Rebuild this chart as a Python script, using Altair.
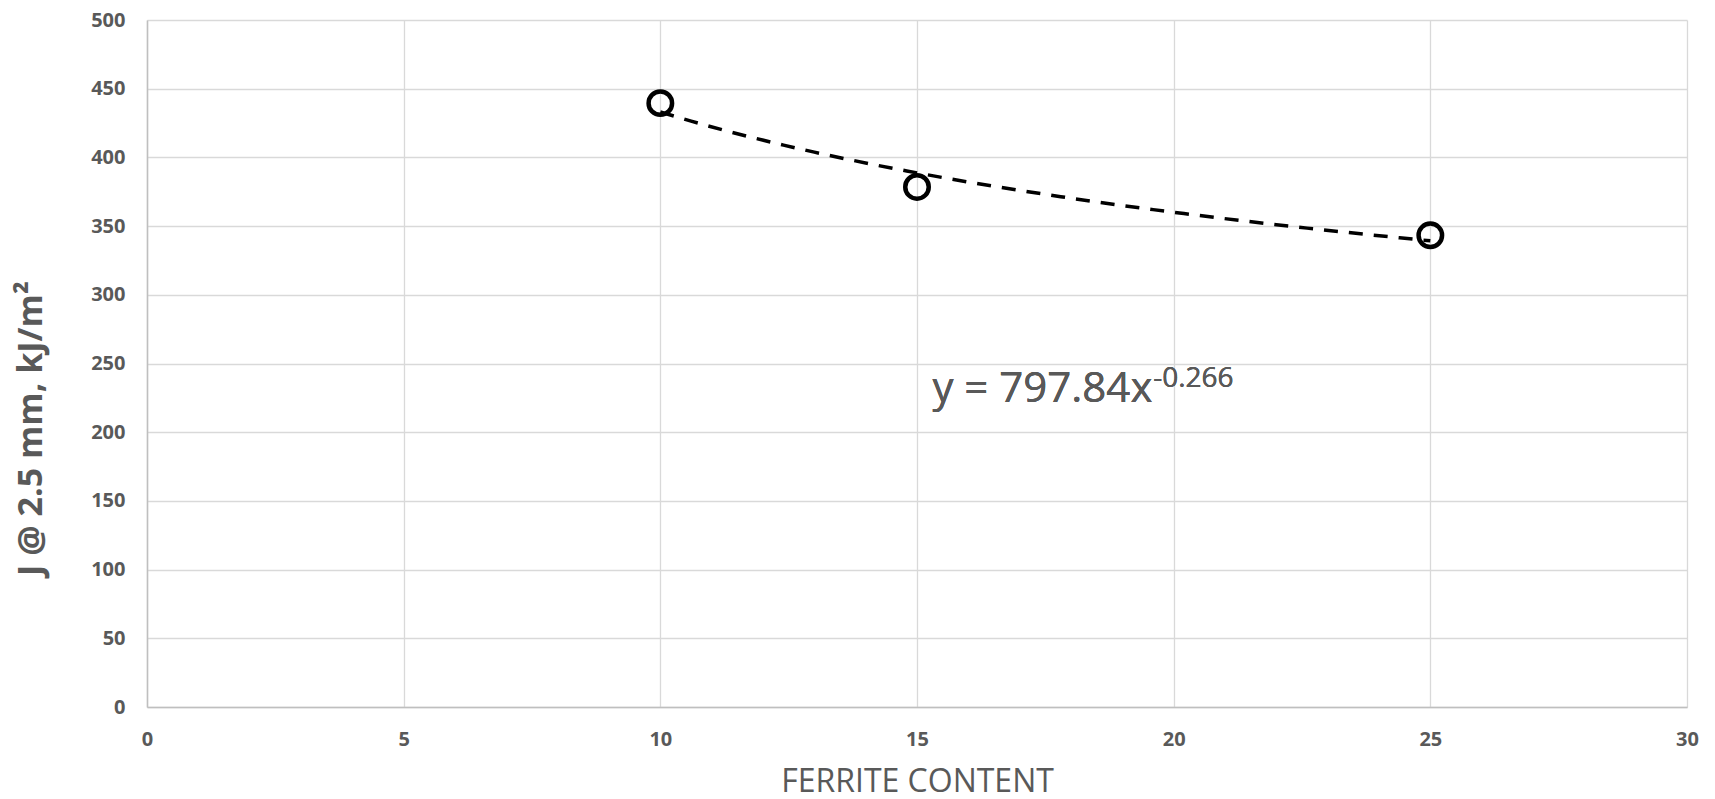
import altair as alt
import pandas as pd

# Data
ferrite = [10, 15, 25]
j_values = [439.5, 378.5, 343.3]

x_ticks = [0, 5, 10, 15, 20, 25, 30]
y_ticks = [0, 50, 100, 150, 200, 250, 300, 350, 400, 450, 500]

eq_main = "y = 797.84x"
eq_exp = "-0.266"

x_title = "FERRITE CONTENT"
y_title = "J @ 2.5 mm, kJ/m\u00b2"

df = pd.DataFrame({"x": ferrite, "y": j_values})

FONT = "Open Sans"
GRAY = "#595959"

x_enc = alt.X(
    "x:Q",
    scale=alt.Scale(domain=[0, 30], nice=False, zero=True),
    axis=alt.Axis(
        values=x_ticks,
        title=x_title,
        grid=True,
        gridColor="#d9d9d9",
        gridWidth=1.3,
        domainColor="#bfbfbf",
        domainWidth=1.5,
        ticks=False,
        labelFlush=False,
        labelFont=FONT,
        labelFontSize=20,
        labelFontWeight="bold",
        labelColor=GRAY,
        labelPadding=22,
        titleFont=FONT,
        titleFontSize=32,
        titleFontWeight="normal",
        titleColor=GRAY,
        titleBaseline="middle",
        titleY=74,
    ),
)
y_enc = alt.Y(
    "y:Q",
    scale=alt.Scale(domain=[0, 500], nice=False),
    axis=alt.Axis(
        values=y_ticks,
        title=y_title,
        grid=True,
        gridColor="#d9d9d9",
        gridWidth=1.3,
        domainColor="#bfbfbf",
        domainWidth=1.5,
        ticks=False,
        labelFlush=False,
        labelFont=FONT,
        labelFontSize=20,
        labelFontWeight="bold",
        labelColor=GRAY,
        labelPadding=22,
        titleFont=FONT,
        titleFontSize=34,
        titleFontWeight="bold",
        titleColor=GRAY,
        titleAngle=270,
        titleBaseline="middle",
        titleAlign="center",
        titleX=-116,
        titleY=408,
    ),
)

base = alt.Chart(df)

points = base.mark_point(
    shape="circle", filled=False, stroke="black", strokeWidth=4.5, size=552, opacity=1
).encode(x=x_enc, y=y_enc)

trend = base.transform_regression("x", "y", method="pow").mark_line(
    color="black", strokeWidth=3.5, strokeDash=[14, 11]
).encode(x="x:Q", y="y:Q")

eq1 = base.mark_text(
    text=eq_main, align="left", baseline="alphabetic", font=FONT, fontSize=42, color=GRAY
).encode(x=alt.datum(15.3), y=alt.datum(221.8))

eq2 = base.mark_text(
    text=eq_exp, align="left", baseline="alphabetic", font=FONT, fontSize=28, color=GRAY
).encode(x=alt.datum(19.6), y=alt.datum(232.7))

chart = (
    alt.layer(trend, points, eq1, eq2)
    .properties(
        width=1540,
        height=687,
        autosize=alt.AutoSizeParams(type="none"),
        padding={"left": 139, "top": 12, "right": 20, "bottom": 90},
    )
    .configure_view(stroke=None)
)

chart.save("out.html", embed_options={"renderer": "svg", "actions": False})
